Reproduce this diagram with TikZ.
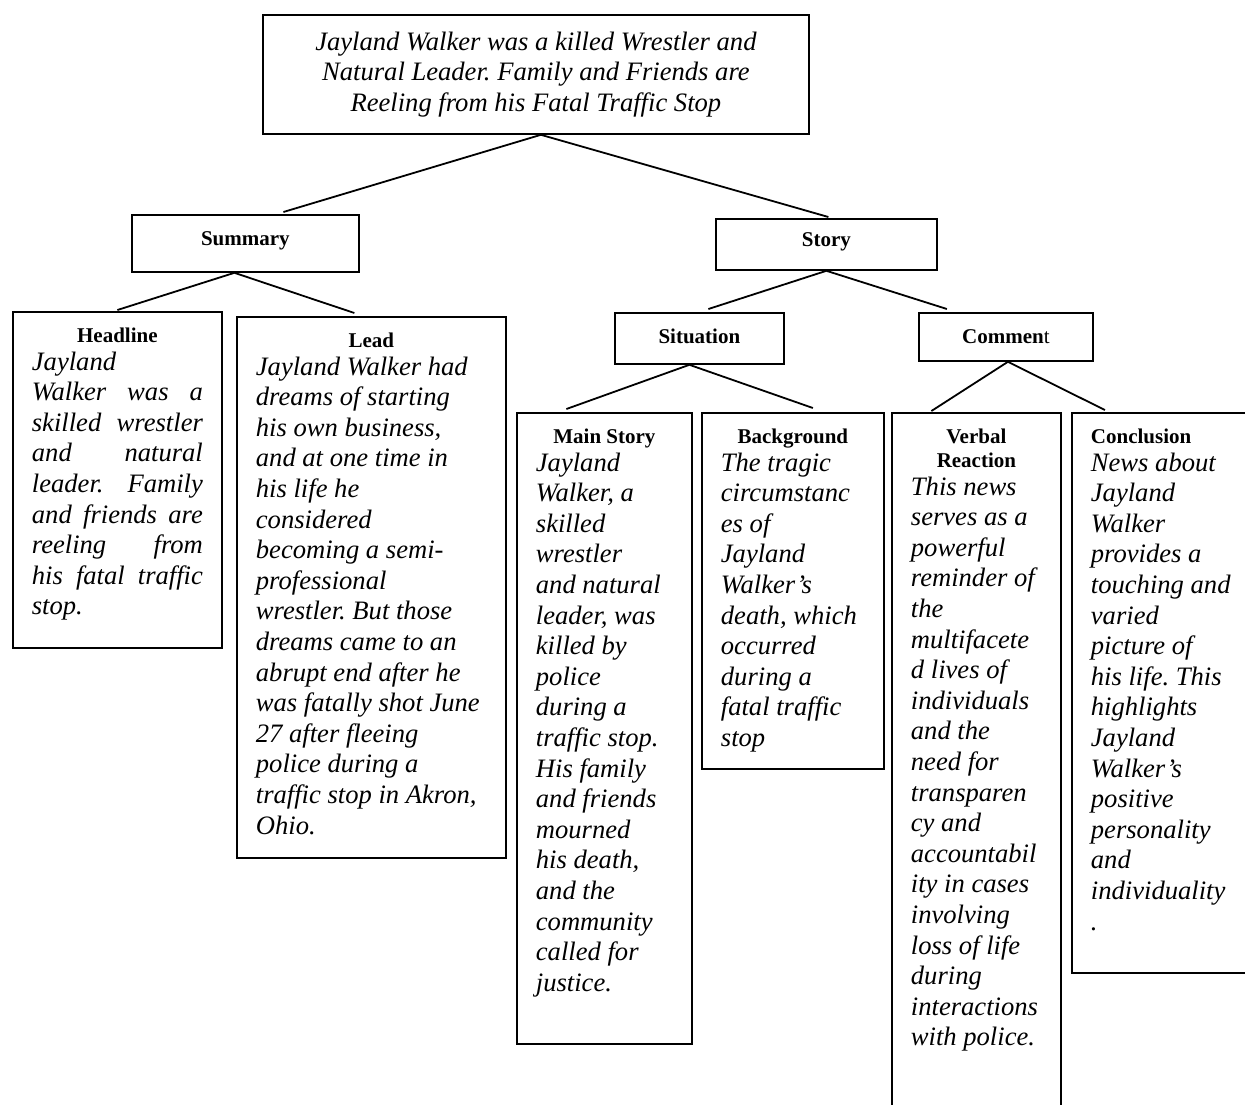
\documentclass[tikz,border=0pt]{standalone}
\usepackage{fontspec}
\setmainfont{Liberation Serif}
\usetikzlibrary{positioning}

\setlength{\parindent}{0pt}
\newcommand{\bodyfont}{\fontsize{26.6}{30.6}\selectfont\itshape
  \spaceskip=0.25em plus 0.15em minus 0.02em
  \xspaceskip=0.25em plus 0.15em
  \hyphenpenalty=10000\relax}
\newcommand{\titlefont}{\fontsize{21}{24}\selectfont\bfseries
  \spaceskip=0.25em plus 0.1em\relax}
\newcommand{\heading}[1]{{\centering\titlefont #1\par}\vspace{-3.5pt}}
\newcommand{\jline}[1]{\makebox[\hsize][s]{#1}\\}

\begin{document}
\begin{tikzpicture}[
x=1pt, y=-1pt,
line width=1.8pt,
topbox/.style={
draw,
anchor=north west,
inner sep=0pt,
align=center,
font=\bodyfont
},
catbox/.style={
draw,
anchor=north west,
inner sep=0pt,
font=\titlefont
},
leaf/.style={
draw,
anchor=north west,
inner xsep=19pt,
inner ysep=0pt,
text height=31pt
}
]
\useasboundingbox (0,0) rectangle (1245,1104);
\clip (0,0) rectangle (1245,1104);

% top of the tree
\node[topbox, minimum width=546pt, minimum height=119pt] (title) at (262,14)
{Jayland Walker was a killed Wrestler and\\
Natural Leader. Family and Friends are\\
Reeling from his Fatal Traffic Stop};

% second level
\node[catbox, minimum width=227pt, minimum height=57pt, text depth=10pt] (summary) at (131,214) {Summary};
\node[catbox, minimum width=221pt, minimum height=51pt, text depth=10pt] (story) at (715,218) {Story};

% third level
\node[catbox, minimum width=169pt, minimum height=51pt, text depth=4pt] (situation) at (614,312) {Situation};
\node[catbox, minimum width=174pt, minimum height=48pt] (comment) at (918,312) {Commen{\mdseries t}};

% leaves under summary
\node[leaf, text width=171pt, text depth=305pt] (headline) at (12,311)
{\heading{Headline}
\bodyfont Jayland\\
\jline{Walker was a}
\jline{skilled wrestler}
\jline{and natural}
\jline{leader. Family}
\jline{and friends are}
\jline{reeling from}
\jline{his fatal traffic}
stop.\par};

\node[leaf, text width=231pt, text depth=510pt] (lead) at (236,316)
{\heading{Lead}
\bodyfont\raggedright Jayland Walker had\\
dreams of starting\\
his own business,\\
and at one time in\\
his life he\\
considered\\
becoming a semi-\\
professional\\
wrestler. But those\\
dreams came to an\\
abrupt end after he\\
was fatally shot June\\
27 after fleeing\\
police during a\\
traffic stop in Akron,\\
Ohio.\par};

% leaves under situation
\node[leaf, text width=137pt, text depth=600pt] (mainstory) at (516,412)
{\heading{Main Story}
\bodyfont\raggedright Jayland\\
Walker, a\\
skilled\\
wrestler\\
and natural\\
leader, was\\
killed by\\
police\\
during a\\
traffic stop.\\
His family\\
and friends\\
mourned\\
his death,\\
and the\\
community\\
called for\\
justice.\par};

\node[leaf, text width=144pt, text depth=325pt] (background) at (701,412)
{\heading{Background}
\bodyfont\raggedright The tragic\\
circumstanc\\
es of\\
Jayland\\
Walker’s\\
death, which\\
occurred\\
during a\\
fatal traffic\\
stop\par};

% leaves under comment
\node[leaf, text width=131pt, text depth=690pt] (verbal) at (891,412)
{\heading{Verbal\\Reaction}
\bodyfont\raggedright This news\\
serves as a\\
powerful\\
reminder of\\
the\\
multifacete\\
d lives of\\
individuals\\
and the\\
need for\\
transparen\\
cy and\\
accountabil\\
ity in cases\\
involving\\
loss of life\\
during\\
interactions\\
with police.\par};

\node[leaf, text width=152pt, text depth=529pt] (conclusion) at (1071,412)
{{\raggedright\titlefont Conclusion\par}\vspace{-3.5pt}
\bodyfont\raggedright News about\\
Jayland\\
Walker\\
provides a\\
touching and\\
varied\\
picture of\\
his life. This\\
highlights\\
Jayland\\
Walker’s\\
positive\\
personality\\
and\\
individuality\\
.\par};

% connectors
\draw ([xshift=5pt]title.south) -- ([xshift=38pt, yshift=2pt]summary.north);
\draw ([xshift=5pt]title.south) -- ([xshift=2pt, yshift=1pt]story.north);

\draw ([xshift=-11pt]summary.south) -- ([yshift=1pt]headline.north);
\draw ([xshift=-11pt]summary.south) -- ([xshift=-17pt, yshift=3pt]lead.north);

\draw (story.south) -- ([xshift=9pt, yshift=3pt]situation.north);
\draw (story.south) -- ([xshift=-59pt, yshift=3pt]comment.north);

\draw ([xshift=-10pt]situation.south) -- ([xshift=-38pt, yshift=3pt]mainstory.north);
\draw ([xshift=-10pt]situation.south) -- ([xshift=20pt, yshift=4pt]background.north);

\draw ([xshift=2pt]comment.south) -- ([xshift=-45pt, yshift=1pt]verbal.north);
\draw ([xshift=2pt]comment.south) -- ([xshift=-62pt, yshift=2pt]conclusion.north);

\end{tikzpicture}
\end{document}
